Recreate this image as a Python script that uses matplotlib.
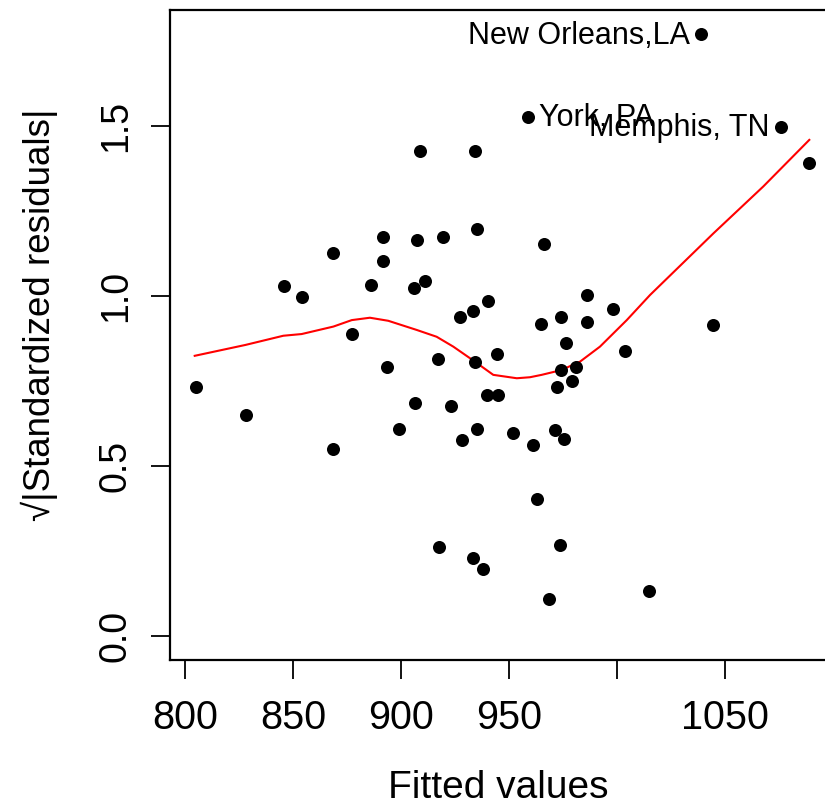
import matplotlib
matplotlib.use("Agg")
import matplotlib.pyplot as plt

plt.rcParams['font.family'] = ['Liberation Sans', 'DejaVu Sans']

fitted = [805.0, 828.1, 845.7, 854.0, 868.7, 868.7, 877.2, 886.3, 891.8, 891.8,
          893.7, 899.2, 905.9, 906.6, 907.6, 908.6, 911.3, 917.0, 917.7, 919.6,
          923.3, 927.2, 928.1, 933.5, 933.5, 934.3, 934.4, 935.3, 935.3, 938.1,
          940.0, 940.1, 944.3, 945.1, 952.0, 958.6, 961.3, 963.1, 965.0, 966.0,
          968.7, 971.3, 972.4, 973.5, 974.2, 974.2, 975.5, 976.2, 979.0, 980.9,
          986.1, 986.3, 998.3, 1003.7, 1015.0, 1038.7, 1044.6, 1075.9, 1089.0]
sqrt_std_resid = [0.733, 0.651, 1.029, 0.998, 1.127, 0.551, 0.887, 1.033, 1.174, 1.104,
                  0.792, 0.610, 1.022, 0.685, 1.164, 1.426, 1.044, 0.816, 0.263, 1.174,
                  0.675, 0.939, 0.576, 0.957, 0.228, 0.805, 1.426, 1.198, 0.610, 0.198,
                  0.710, 0.986, 0.828, 0.710, 0.598, 1.526, 0.563, 0.404, 0.917, 1.152,
                  0.110, 0.605, 0.733, 0.268, 0.939, 0.782, 0.578, 0.863, 0.751, 0.792,
                  0.922, 1.004, 0.962, 0.838, 0.133, 1.769, 0.916, 1.497, 1.392]

smooth_x = [804.5, 828.0, 845.5, 854.0, 868.7, 877.2, 885.6, 894.1, 907.3, 916.5,
            924.2, 933.5, 942.7, 953.6, 959.7, 965.1, 974.2, 982.9, 992.1, 1004.5,
            1015.3, 1044.6, 1067.7, 1089.0]
smooth_y = [0.824, 0.856, 0.883, 0.888, 0.910, 0.929, 0.936, 0.927, 0.900, 0.880,
            0.851, 0.810, 0.768, 0.758, 0.761, 0.768, 0.782, 0.807, 0.851, 0.929,
            1.003, 1.184, 1.322, 1.459]

labels = ["New Orleans,LA", "York, PA", "Memphis, TN"]
label_x = [1038.7, 958.6, 1075.9]
label_y = [1.769, 1.526, 1.497]
label_side = ["left", "right", "left"]

xticks = [800, 850, 900, 950, 1000, 1050]
xticklabels = ["800", "850", "900", "950", "", "1050"]
yticks = [0.0, 0.5, 1.0, 1.5]
yticklabels = ["0.0", "0.5", "1.0", "1.5"]

fig = plt.figure(figsize=(8.25, 8.11), dpi=100)
ax = fig.add_axes([170/825, 1-660/811, (843-170)/825, (660-10)/811])

ax.scatter(fitted, sqrt_std_resid, s=88, color='black', zorder=3, linewidths=0)
ax.plot(smooth_x, smooth_y, color='red', lw=1.5, zorder=2)

for t, x, y, side in zip(labels, label_x, label_y, label_side):
    if side == "left":
        ax.annotate(t, (x, y), xytext=(-8, -1), textcoords='offset points',
                    ha='right', va='center', fontsize=22)
    else:
        ax.annotate(t, (x, y), xytext=(8, -1), textcoords='offset points',
                    ha='left', va='center', fontsize=22)

ax.set_xlim(793.06, 1104.6)
ax.set_ylim(-0.0706, 1.841)
ax.set_xticks(xticks)
ax.set_xticklabels(xticklabels)
ax.set_yticks(yticks)
ax.set_yticklabels(yticklabels, rotation=90, va='center')
ax.tick_params(axis='both', labelsize=27, length=14, width=1.3, pad=12, direction='out')
ax.tick_params(axis='x', labelsize=28.5, pad=14)

for sp in ax.spines.values():
    sp.set_linewidth(1.6)

ax.set_xlabel("Fitted values", fontsize=28)
ax.set_ylabel("\u221a|Standardized residuals|", fontsize=26.5)
ax.xaxis.set_label_coords((498-170)/(843-170), -(798-660)/650, transform=ax.transAxes)
ax.xaxis.label.set_va('baseline')
ax.yaxis.set_label_coords(-(170-50)/(843-170), (660-315)/650, transform=ax.transAxes)
ax.yaxis.label.set_va('baseline')

fig.savefig("out.png", dpi=100)
